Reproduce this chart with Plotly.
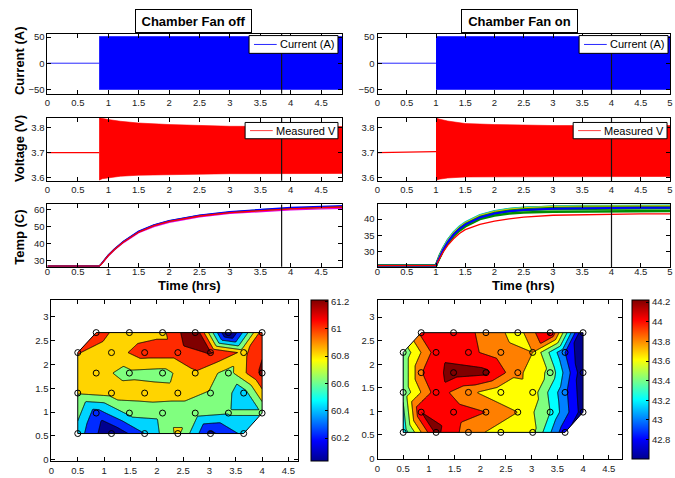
import numpy as np
import plotly.graph_objects as go

W, H = 675, 478
FONT = "Liberation Sans, Arial, Helvetica, sans-serif"

# ---------------- data ----------------
# current (A)
cur_idle_t_off = [0.0, 0.85]
cur_idle_off = [0.0, 0.0]
cur_band_t_off = [0.85, 4.86]
cur_hi_off = [51.0, 51.0]
cur_lo_off = [-50.0, -50.0]

cur_idle_t_on = [0.0, 1.0]
cur_idle_on = [0.0, 0.0]
cur_band_t_on = [1.0, 5.0]
cur_hi_on = [51.0, 51.0]
cur_lo_on = [-50.0, -50.0]

# voltage (V)
volt_idle_t_off = [0.0, 0.85]
volt_idle_off = [3.700, 3.700]
volt_band_t_off = [0.85, 0.9, 1.0, 1.2, 1.5, 2.0, 2.5, 3.0, 4.86]
volt_hi_off = [3.839, 3.836, 3.832, 3.825, 3.818, 3.812, 3.808, 3.805, 3.804]
volt_lo_off = [3.590, 3.596, 3.601, 3.606, 3.610, 3.614, 3.615, 3.616, 3.617]

volt_idle_t_on = [0.0, 0.3, 0.6, 1.0]
volt_idle_on = [3.700, 3.701, 3.704, 3.704]
volt_band_t_on = [1.0, 1.05, 1.2, 1.5, 2.0, 2.5, 3.0, 4.0, 5.0]
volt_hi_on = [3.839, 3.834, 3.826, 3.816, 3.812, 3.809, 3.808, 3.808, 3.808]
volt_lo_on = [3.589, 3.594, 3.599, 3.603, 3.604, 3.605, 3.605, 3.605, 3.605]

# marker time (hrs)
marker_off = 3.85
marker_on = 4.0

# temperatures (C), fan off
temp_t_off = [0.0, 0.85, 0.88, 0.93, 1.0, 1.1, 1.25, 1.5, 1.75, 2.0, 2.5, 3.0, 3.5, 4.0, 4.5, 4.86]
temp_off_magenta = [26.8, 26.8, 27.7, 29.8, 32.7, 36.2, 40.6, 46.4, 50.0, 52.5, 55.7, 57.7, 58.9, 59.8, 60.4, 60.7]
temp_off_green = [26.8, 26.8, 27.8, 30.1, 33.2, 36.7, 41.2, 47.1, 50.8, 53.3, 56.5, 58.5, 59.9, 60.8, 61.5, 61.8]
temp_off_black = [26.8, 26.8, 27.8, 30.0, 33.1, 36.6, 41.1, 46.9, 50.6, 53.1, 56.3, 58.3, 59.6, 60.5, 61.2, 61.5]
temp_off_blue = [26.8, 26.8, 27.9, 30.2, 33.3, 36.9, 41.4, 47.3, 51.0, 53.5, 56.7, 58.8, 60.2, 61.2, 61.9, 62.3]
temp_off_red = [26.8, 26.8, 27.7, 29.9, 33.0, 36.5, 41.0, 46.8, 50.5, 53.0, 56.2, 58.2, 59.5, 60.4, 61.1, 61.5]

# temperatures (C), fan on
temp_t_on = [0.0, 1.0, 1.02, 1.06, 1.12, 1.2, 1.3, 1.4, 1.5, 1.75, 2.0, 2.25, 2.5, 3.0, 3.5, 4.0, 4.5, 5.0]
temp_on_green1 = [25.8, 25.8, 26.7, 28.3, 30.3, 32.6, 34.8, 36.5, 37.8, 40.0, 41.1, 41.7, 42.0, 42.3, 42.4, 42.5, 42.5, 42.5]
temp_on_green2 = [25.8, 25.8, 26.8, 28.5, 30.6, 33.0, 35.3, 37.0, 38.3, 40.6, 41.8, 42.4, 42.8, 43.1, 43.2, 43.2, 43.3, 43.3]
temp_on_green3 = [25.8, 25.8, 26.9, 28.8, 31.0, 33.5, 35.8, 37.5, 38.8, 41.1, 42.3, 43.0, 43.4, 43.8, 43.9, 44.0, 44.0, 44.0]
temp_on_cyan = [25.8, 25.8, 27.0, 29.0, 31.3, 33.8, 36.2, 37.9, 39.2, 41.4, 42.6, 43.3, 43.7, 44.1, 44.3, 44.3, 44.4, 44.4]
temp_on_yellow = [25.8, 25.8, 26.9, 28.9, 31.1, 33.6, 36.0, 37.7, 39.0, 41.2, 42.4, 43.1, 43.5, 43.9, 44.0, 44.1, 44.1, 44.1]
temp_on_blue = [25.8, 25.8, 26.8, 28.5, 30.6, 33.0, 35.3, 37.0, 38.3, 40.5, 41.7, 42.4, 42.8, 43.2, 43.4, 43.4, 43.5, 43.5]
temp_on_red = [25.8, 25.8, 26.6, 28.0, 29.9, 32.0, 34.0, 35.6, 36.8, 38.4, 39.4, 40.1, 40.6, 41.2, 41.4, 41.5, 41.6, 41.6]

# sensor layout (staggered rows)
sensor_row_y = [2.67, 2.25, 1.82, 1.40, 0.98, 0.55]
sensor_cols_even = [0.85, 1.48, 2.11, 2.73, 3.36, 4.00]   # rows 0, 2, 4
sensor_cols_odd = [0.50, 1.14, 1.77, 2.40, 3.02, 3.65]    # rows 1, 3, 5

# sensor temperatures at the marker time (C)
sensor_temp_off = [
    [61.08, 60.88, 60.95, 61.40, 59.90, 61.10],
    [61.01, 60.90, 61.10, 61.10, 61.22, 60.95],
    [60.85, 60.75, 60.72, 60.97, 60.72, 61.25],
    [60.82, 60.88, 60.90, 60.88, 60.78, 60.50],
    [60.30, 60.65, 60.68, 60.68, 60.62, 60.62],
    [60.50, 60.00, 60.40, 60.85, 60.15, 60.45],
]
sensor_temp_on = [
    [44.05, 44.10, 43.95, 43.70, 44.25, 42.60],
    [43.45, 44.10, 44.05, 43.90, 43.80, 43.00],
    [43.98, 44.30, 44.25, 43.85, 43.55, 42.65],
    [43.45, 44.10, 43.85, 43.65, 43.70, 43.05],
    [44.20, 44.10, 44.00, 43.80, 43.40, 42.70],
    [43.25, 44.25, 43.90, 43.70, 43.65, 42.85],
]
cbar_off = [60.03, 61.21]
cbar_on = [42.60, 44.22]
levels_off = (60.2, 61.2, 0.2)
levels_on = (42.8, 44.2, 0.2)
cbar_ticks_off = [60.2, 60.4, 60.6, 60.8, 61.0, 61.2]
cbar_text_off = ["60.2", "60.4", "60.6", "60.8", "61", "61.2"]
cbar_ticks_on = [42.8, 43.0, 43.2, 43.4, 43.6, 43.8, 44.0, 44.2]
cbar_text_on = ["42.8", "43", "43.2", "43.4", "43.6", "43.8", "44", "44.2"]

JET = [[0.0, "rgb(0,0,143)"], [0.125, "rgb(0,0,255)"], [0.375, "rgb(0,255,255)"],
       [0.625, "rgb(255,255,0)"], [0.875, "rgb(255,0,0)"], [1.0, "rgb(128,0,0)"]]

# ---------------- helpers ----------------
def dom_x(a, b):
    return [a / W, b / W]

def dom_y(top, bot):
    return [1 - bot / H, 1 - top / H]

fig = go.Figure()

def band(ax, t, hi, lo, color):
    t = list(t)
    fig.add_trace(go.Scatter(x=t + t[::-1], y=list(hi) + list(lo)[::-1], fill="toself",
                             fillcolor=color, mode="lines", line=dict(color=color, width=0.6),
                             showlegend=False, hoverinfo="skip", xaxis="x" + ax, yaxis="y" + ax))

def line(ax, t, v, color, width=1.0):
    fig.add_trace(go.Scatter(x=t, y=v, mode="lines", line=dict(color=color, width=width),
                             showlegend=False, hoverinfo="skip", xaxis="x" + ax, yaxis="y" + ax))

# current
line("", cur_idle_t_off, cur_idle_off, "rgb(40,40,255)", 1)
band("", cur_band_t_off, cur_hi_off, cur_lo_off, "rgb(0,0,255)")
line("2", cur_idle_t_on, cur_idle_on, "rgb(40,40,255)", 1)
band("2", cur_band_t_on, cur_hi_on, cur_lo_on, "rgb(0,0,255)")
# voltage
line("3", volt_idle_t_off, volt_idle_off, "rgb(255,0,0)", 1.2)
band("3", volt_band_t_off, volt_hi_off, volt_lo_off, "rgb(255,0,0)")
line("4", volt_idle_t_on, volt_idle_on, "rgb(255,0,0)", 1.2)
band("4", volt_band_t_on, volt_hi_on, volt_lo_on, "rgb(255,0,0)")
# temperatures
for v, c in [(temp_off_magenta, "rgb(230,0,230)"), (temp_off_green, "rgb(0,140,0)"),
             (temp_off_black, "rgb(60,60,60)"), (temp_off_blue, "rgb(0,0,255)"),
             (temp_off_red, "rgb(255,0,0)")]:
    line("5", temp_t_off, v, c, 1.3)
for v, c, w in [(temp_on_green1, "rgb(0,140,0)", 2.5), (temp_on_green2, "rgb(0,150,0)", 2.5),
                (temp_on_green3, "rgb(0,140,0)", 2.5), (temp_on_cyan, "rgb(0,200,200)", 1.3),
                (temp_on_yellow, "rgb(220,200,0)", 1.0), (temp_on_blue, "rgb(0,0,255)", 2.0),
                (temp_on_red, "rgb(255,0,0)", 1.3)]:
    line("6", temp_t_on, v, c, w)

# ---------------- contour maps ----------------
def sensor_points(zrows):
    P = {}
    for r, y in enumerate(sensor_row_y):
        xs = sensor_cols_even if r % 2 == 0 else sensor_cols_odd
        for c, x in enumerate(xs):
            P[(r, c)] = (x, y, zrows[r][c])
    return P

def triangles(P):
    tris = []
    nr = len(sensor_row_y)
    for r in range(nr - 1):
        pts = sorted([P[(r, c)] for c in range(6)] + [P[(r + 1, c)] for c in range(6)], key=lambda p: p[0])
        for i in range(len(pts) - 2):
            tris.append(pts[i:i + 3])
    for r in range(2, nr - 1, 2):
        tris.append([P[(r - 1, 0)], P[(r, 0)], P[(r + 1, 0)]])
    for r in range(1, nr - 1, 2):
        tris.append([P[(r - 1, 5)], P[(r, 5)], P[(r + 1, 5)]])
    return tris

def grid_values(zrows):
    P = sensor_points(zrows)
    gx = np.linspace(min(sensor_cols_odd), max(sensor_cols_even), 176)
    gy = np.linspace(min(sensor_row_y), max(sensor_row_y), 107)
    GX, GY = np.meshgrid(gx, gy)
    Z = np.full(GX.shape, np.nan)
    for (x1, y1, z1), (x2, y2, z2), (x3, y3, z3) in triangles(P):
        d = (y2 - y3) * (x1 - x3) + (x3 - x2) * (y1 - y3)
        l1 = ((y2 - y3) * (GX - x3) + (x3 - x2) * (GY - y3)) / d
        l2 = ((y3 - y1) * (GX - x3) + (x1 - x3) * (GY - y3)) / d
        l3 = 1 - l1 - l2
        m = (l1 >= -1e-9) & (l2 >= -1e-9) & (l3 >= -1e-9)
        Z[m] = (l1 * z1 + l2 * z2 + l3 * z3)[m]
    # fill the two cut corners (hidden later) with nearest column values
    for j in range(Z.shape[1]):
        col = Z[:, j]
        ok = ~np.isnan(col)
        if ok.any():
            idx = np.where(ok)[0]
            for i in np.where(~ok)[0]:
                col[i] = col[idx[np.argmin(np.abs(idx - i))]]
    return gx, gy, Z

def contour_panel(ax, zrows, levels, crange, ticks, ticktext, cbx, cbtop, cbbot):
    gx, gy, Z = grid_values(zrows)
    s, e, sz = levels
    fig.add_trace(go.Contour(x=gx, y=gy, z=Z, colorscale=JET, autocontour=False,
                             contours=dict(start=s, end=e, size=sz, coloring="fill", showlines=True),
                             line=dict(color="black", width=0.9, smoothing=0),
                             showscale=False, hoverinfo="skip", xaxis="x" + ax, yaxis="y" + ax))
    xl, xr = min(sensor_cols_odd), max(sensor_cols_even)
    yb, yt = min(sensor_row_y), max(sensor_row_y)
    p = 0.04
    # cut corners (outside the sensor hull)
    xe0, y1 = sensor_cols_even[0], sensor_row_y[1]
    fig.add_trace(go.Scatter(x=[xl, xl - p, xl - p, xe0, xe0, xl], y=[y1, y1, yt + p, yt + p, yt, y1],
                             fill="toself", fillcolor="white", mode="lines", line=dict(width=0, color="white"),
                             showlegend=False, hoverinfo="skip", xaxis="x" + ax, yaxis="y" + ax))
    xo5, y4 = sensor_cols_odd[-1], sensor_row_y[-2]
    fig.add_trace(go.Scatter(x=[xo5, xo5, xr + p, xr + p, xr, xo5], y=[yb, yb - p, yb - p, y4, y4, yb],
                             fill="toself", fillcolor="white", mode="lines", line=dict(width=0, color="white"),
                             showlegend=False, hoverinfo="skip", xaxis="x" + ax, yaxis="y" + ax))
    # hull outline
    hx = [xe0, xr, xr, xo5, xl, xl, xe0]
    hy = [yt, yt, y4, yb, yb, y1, yt]
    fig.add_trace(go.Scatter(x=hx, y=hy, mode="lines", line=dict(color="black", width=1),
                             showlegend=False, hoverinfo="skip", xaxis="x" + ax, yaxis="y" + ax))
    # sensors
    P = sensor_points(zrows)
    px = [q[0] for q in P.values()]
    py = [q[1] for q in P.values()]
    pz = [q[2] for q in P.values()]
    fig.add_trace(go.Scatter(x=px, y=py, mode="markers",
                             marker=dict(symbol="circle-open", size=6, color="black", line=dict(width=1, color="black")),
                             showlegend=False, hoverinfo="skip", xaxis="x" + ax, yaxis="y" + ax))
    # colour bar
    fig.add_trace(go.Scatter(x=px, y=py, mode="markers",
                             marker=dict(color=pz, colorscale=JET, cmin=crange[0], cmax=crange[1], opacity=0, size=1,
                                         showscale=True,
                                         colorbar=dict(x=cbx / W, xanchor="left", y=1 - cbtop / H, yanchor="top",
                                                       len=(cbbot - cbtop) / H, lenmode="fraction",
                                                       thickness=17, thicknessmode="pixels", xpad=0, ypad=0,
                                                       outlinecolor="black", outlinewidth=1,
                                                       ticks="inside", ticklen=3, tickcolor="black",
                                                       tickvals=ticks, ticktext=ticktext,
                                                       tickfont=dict(family=FONT, size=9.5, color="#222"))),
                             showlegend=False, hoverinfo="skip", xaxis="x" + ax, yaxis="y" + ax))

contour_panel("7", sensor_temp_off, levels_off, cbar_off, cbar_ticks_off, cbar_text_off, 312, 302, 465)
contour_panel("8", sensor_temp_on, levels_on, cbar_on, cbar_ticks_on, cbar_text_on, 637, 302, 463)

# ---------------- axes ----------------
axis_style = dict(showline=True, linecolor="black", linewidth=1, mirror="ticks", ticks="inside",
                  ticklen=4, tickwidth=1, tickcolor="black", showgrid=False, zeroline=False,
                  tickfont=dict(family=FONT, size=9.5, color="#222"), fixedrange=True)

panels = [
    ("", (45, 343.5), (32, 93), [0, 4.85], [-58.4, 56.5], 0.5, 50),
    ("2", (379, 675), (32, 93), [0, 5.0], [-58.4, 56.5], 0.5, 50),
    ("3", (45, 343.5), (117, 181), [0, 4.85], [3.588, 3.84], 0.5, 0.1),
    ("4", (379, 675), (117, 181), [0, 5.0], [3.588, 3.84], 0.5, 0.1),
    ("5", (45, 343.5), (205, 268), [0, 4.85], [26.5, 63.0], 0.5, 10),
    ("6", (379, 675), (205, 268), [0, 5.0], [25.5, 44.5], 0.5, 5),
    ("7", (49, 299), (302, 465), [0, 4.69], [-0.03, 3.35], 0.5, 0.5),
    ("8", (379, 626), (302, 463), [0, 4.75], [-0.02, 3.36], 0.5, 0.5),
]
layout_axes = {}
for ax, xd, yd, xr, yr, dx, dy in panels:
    xa = dict(axis_style, domain=dom_x(*xd), range=xr, dtick=dx, tick0=0, anchor="y" + ax)
    if ax in ("5", "6"):
        xa["ticklabelstandoff"] = -4
    layout_axes["xaxis" + ax] = xa
    layout_axes["yaxis" + ax] = dict(axis_style, domain=dom_y(*yd), range=yr, dtick=dy, tick0=0, anchor="x" + ax)

shapes = []
for ax, tm in [("", marker_off), ("2", marker_on), ("3", marker_off), ("4", marker_on),
               ("5", marker_off), ("6", marker_on)]:
    shapes.append(dict(type="line", xref="x" + ax, yref=("y" + ax) + " domain", x0=tm, x1=tm, y0=0, y1=1,
                       line=dict(color="rgb(20,20,20)", width=1.2)))

annotations = []

def legend_box(x0, x1, y0, y1, label, color):
    shapes.append(dict(type="rect", xref="paper", yref="paper", x0=x0 / W, x1=x1 / W,
                       y0=1 - y1 / H, y1=1 - y0 / H, fillcolor="white", line=dict(color="black", width=1)))
    ym = 1 - (y0 + y1) / 2 / H
    shapes.append(dict(type="line", xref="paper", yref="paper", x0=(x0 + 5) / W, x1=(x0 + 28) / W,
                       y0=ym, y1=ym, line=dict(color=color, width=1)))
    annotations.append(dict(x=(x0 + 29) / W, y=ym, xref="paper", yref="paper", text=label, showarrow=False,
                            xanchor="left", yanchor="middle", font=dict(family=FONT, size=11, color="black")))

legend_box(249, 339, 34, 52, "Current (A)", "rgb(40,40,255)")
legend_box(583, 673, 34, 52, "Current (A)", "rgb(40,40,255)")
legend_box(245, 339, 122, 138.5, "Measured V", "rgb(255,60,60)")
legend_box(577, 672, 122, 138.5, "Measured V", "rgb(255,60,60)")

def text(x, y, s, size=13, angle=0, box=False):
    d = dict(x=x / W, y=1 - y / H, xref="paper", yref="paper", text=s, showarrow=False,
             textangle=angle, font=dict(family=FONT, size=size, color="black"),
             xanchor="center", yanchor="middle")
    if box:
        d.update(bordercolor="black", borderwidth=1, bgcolor="white", width=113, height=20, borderpad=1)
    annotations.append(d)

text(192.5, 19, "<b>Chamber Fan off</b>", box=True)
text(523, 19, "<b>Chamber Fan on</b>", box=True)
text(16, 59, "<b>Current (A)</b>", angle=-90)
text(16, 148, "<b>Voltage (V)</b>", angle=-90)
text(16, 238, "<b>Temp (C)</b>", angle=-90)
text(189, 287, "<b>Time (hrs)</b>")
text(527, 287, "<b>Time (hrs)</b>")

fig.update_layout(
    width=W, height=H, margin=dict(l=0, r=0, t=0, b=0),
    paper_bgcolor="white", plot_bgcolor="white", showlegend=False,
    shapes=shapes, annotations=annotations, **layout_axes,
)

fig.write_html("out.html")
